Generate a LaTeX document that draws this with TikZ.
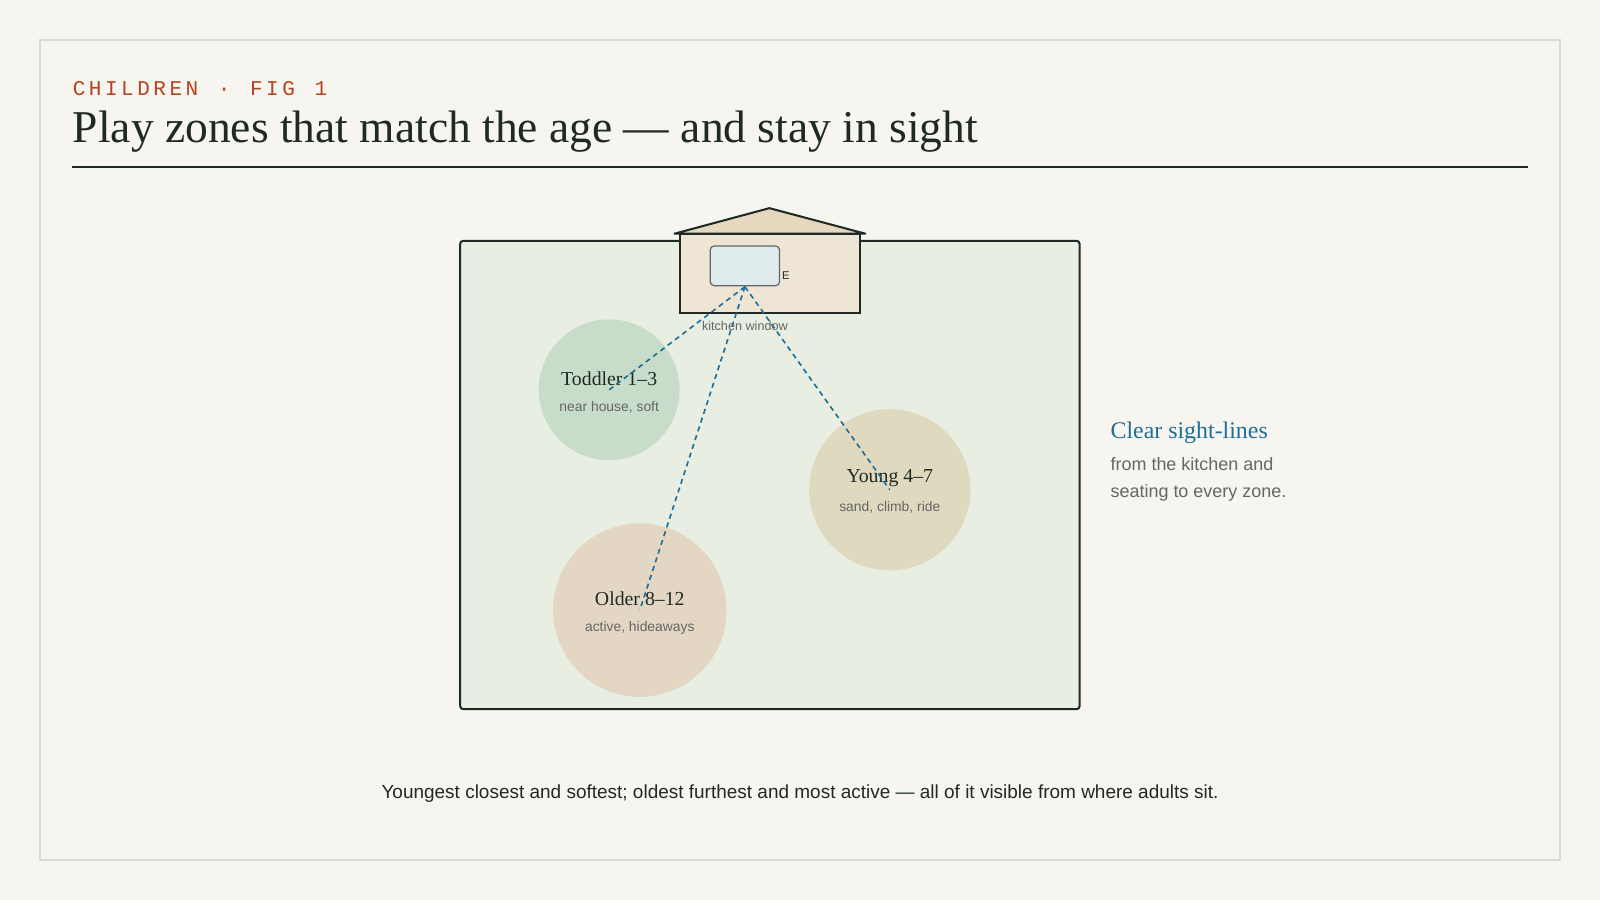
\documentclass[tikz,border=0pt]{standalone}
\usepackage{fontspec}
\setmainfont{Liberation Serif}
\setsansfont{Liberation Sans}
\setmonofont{Liberation Mono}
\definecolor{bg}{HTML}{F7F5EF}
\definecolor{ink}{HTML}{1F2A24}
\definecolor{accent}{HTML}{B5441C}
\definecolor{yard}{HTML}{E8EEE1}
\definecolor{house}{HTML}{EFE5D4}
\definecolor{roof}{HTML}{E5D8BE}
\definecolor{win}{HTML}{E0EBEE}
\definecolor{tod}{HTML}{C8DDC9}
\definecolor{yng}{HTML}{DFD9C0}
\definecolor{old}{HTML}{E3D6C2}
\definecolor{sight}{HTML}{1F6E99}
\definecolor{grey}{HTML}{666666}
\begin{document}
\begin{tikzpicture}[x=0.5pt,y=-0.5pt,
  zone/.style={circle,inner sep=0pt},
  zname/.style={font=\fontsize{9.7}{11}\selectfont,text=ink},
  zsub/.style={font=\sffamily\fontsize{6.8}{8}\selectfont,text=grey},
  sl/.style={sight,dashed,line width=0.8pt,dash pattern=on 2.5pt off 2pt}]
\fill[bg] (0,0) rectangle (1568,882);
\useasboundingbox (0,0) rectangle (1568,882);
\draw[color=black!15,line width=0.8pt] (39,39) rectangle (1529,843);
\node[anchor=west,inner sep=0pt,text=accent,font=\ttfamily\fontsize{10.3}{12}\selectfont] (kick) at (71,87) {C\,H\,I\,L\,D\,R\,E\,N\,\ \,·\,\ \,F\,I\,G\,\ \,1};
\node[anchor=west,inner sep=0pt,text=ink,font=\fontsize{22.3}{26}\selectfont] (title) at (71,129) {Play zones that match the age — and stay in sight};
\draw[ink,line width=1pt] (71,164) -- (1497,164);
% yard
\draw[fill=yard,draw=ink,line width=1pt,rounded corners=1.5pt] (451,236) rectangle (1058,695);
% zones
\node[zone,fill=tod,minimum size=69pt] (t) at (597,382) {};
\node[zone,fill=yng,minimum size=79pt] (y) at (872,480) {};
\node[zone,fill=old,minimum size=85pt] (o) at (627,598) {};
% house
\draw[fill=roof,draw=ink,line width=1pt,line join=round] (661,229) -- (754,204) -- (848,229) -- cycle;
\draw[fill=house,draw=ink,line width=1pt] (666,229) rectangle (843,307);
\draw[fill=win,draw=grey,line width=0.6pt,rounded corners=2pt] (696,241) rectangle (764,280);
\coordinate (eye) at (730,281);
\node[anchor=west,inner sep=0pt,font=\sffamily\fontsize{5.5}{6}\selectfont,text=ink] (e) at (766,270) {E};
\node[zname] (tn) at (597,371) {Toddler 1–3};
\node[zsub] (ts) at (597,399) {near house, soft};
\node[zname] (yn) at (872,469) {Young 4–7};
\node[zsub] (ys) at (872,497) {sand, climb, ride};
\node[zname] (on) at (627,587) {Older 8–12};
\node[zsub] (os) at (627,615) {active, hideaways};
\coordinate (tp) at (597,382);
\coordinate (yp) at (872,480);
\coordinate (op) at (627,598);
\draw[sl] (eye) -- (tp);
\draw[sl] (eye) -- (yp);
\draw[sl] (eye) -- (op);
\node[inner sep=0pt,font=\sffamily\fontsize{6.2}{7}\selectfont,text=grey] (kw) at (730,319) {kitchen window};
% side note
\node[anchor=west,inner sep=0pt,text=sight,font=\fontsize{11.7}{13}\selectfont] (cs) at (1088,424) {Clear sight-lines};
\node[anchor=north west,inner sep=0pt,align=left,text=grey,font=\sffamily\fontsize{8.8}{13}\selectfont] (cst) at (1088,448) {from the kitchen and\\seating to every zone.};
\node[inner sep=0pt,text=ink,font=\sffamily\fontsize{9.3}{10}\selectfont] (cap) at (784,778) {Youngest closest and softest; oldest furthest and most active — all of it visible from where adults sit.};
\end{tikzpicture}
\end{document}
